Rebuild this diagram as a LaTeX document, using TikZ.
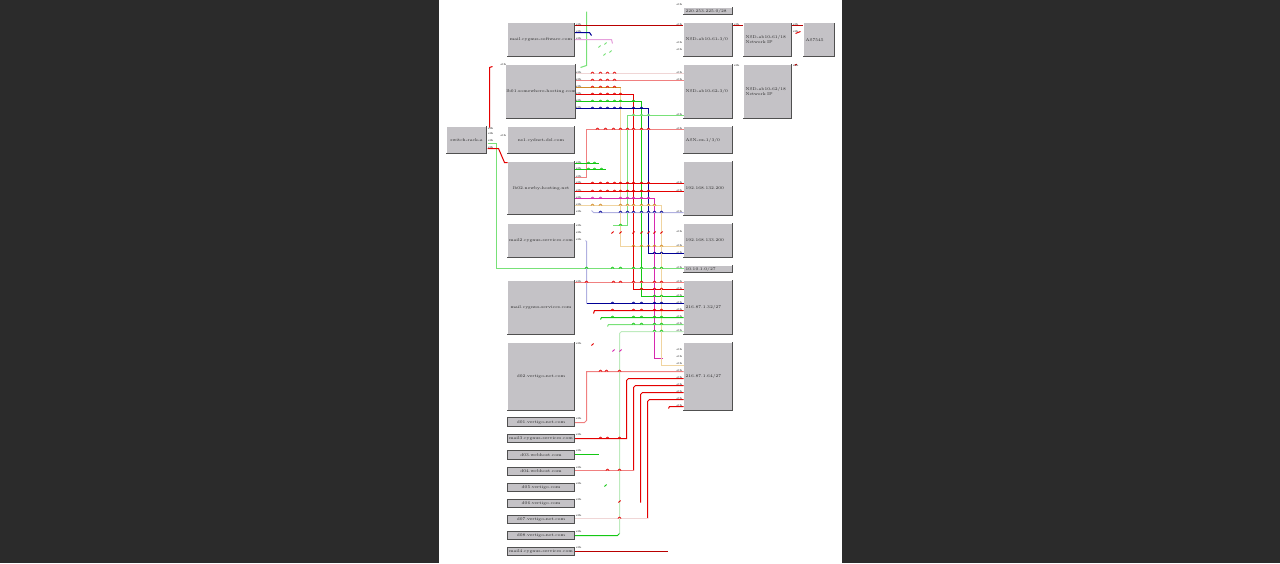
\documentclass[tikz,border=0pt]{standalone}
\definecolor{bgdark}{RGB}{43,43,43}
\definecolor{boxgray}{RGB}{196,194,198}
\definecolor{boxedge}{RGB}{80,80,80}
\definecolor{cdred}{RGB}{185,0,0}
\definecolor{cred}{RGB}{228,0,0}
\definecolor{csal}{RGB}{240,128,128}
\definecolor{cpale}{RGB}{240,214,214}
\definecolor{corange}{RGB}{210,140,40}
\definecolor{cbeige}{RGB}{240,212,160}
\definecolor{cgreen}{RGB}{20,200,20}
\definecolor{clgreen}{RGB}{120,225,120}
\definecolor{cpgreen}{RGB}{190,235,190}
\definecolor{cnavy}{RGB}{0,0,150}
\definecolor{clav}{RGB}{176,176,224}
\definecolor{cmag}{RGB}{215,40,175}
\definecolor{cpink}{RGB}{230,160,220}
\tikzset{
  hbox/.style={fill=boxgray, inner sep=0pt, font=\fontsize{4.1}{4.8}\selectfont, text=black!85, align=center},
  wire/.style={line width=1pt},
  port/.style={font=\fontsize{2.9}{3.2}\selectfont, inner sep=0.2pt, text=black},
  edgeline/.style={draw=boxedge, line width=1pt},
}
\newcommand\hbx[6]{%
  \node[hbox, minimum width=#4pt, minimum height=#5pt] (#1) at (#2,#3) {#6};
  \draw[edgeline] (#1.north east) -- (#1.south east) -- (#1.south west);}
\newcommand\hbxl[7]{%
  \node[hbox, minimum width=#4pt, minimum height=#5pt, text width=#7pt, align=left] (#1) at (#2,#3) {#6};
  \draw[edgeline] (#1.north east) -- (#1.south east) -- (#1.south west);}
\newcommand\hbxs[5]{%
  \node[hbox, minimum width=67pt, minimum height=8.5pt, draw=boxedge, line width=0.6pt] (#1) at (#2,#3) {#5};
  \draw[edgeline] (#1.north east) -- (#1.south east);}
\newcommand\hp[3]{\draw[#3,line width=0.7pt] (#1-1.6,#2) .. controls (#1-1.6,#2-2) and (#1+1.6,#2-2) .. (#1+1.6,#2);}
\newcommand\tk[3]{\draw[#3,line width=0.9pt] (#1-1.2,#2+1) -- (#1+1.2,#2-1);}
\begin{document}
\begin{tikzpicture}[x=1pt,y=-1pt]
\fill[bgdark] (0,0) rectangle (1280,563);
\fill[white] (439,0) rectangle (842,563);
\useasboundingbox (0,0) rectangle (1280,563);
\begin{scope}[shift={(0.5,0.5)}]
% ---------------- wires ----------------
% box 1
\draw[wire,clgreen] (580,67) -- (586,65) -- (586,11);
\draw[wire,cnavy] (574,32) -- (589,32) -- (591,35);
\draw[wire,cpink] (574,39) -- (611,39) -- (612,43);
\foreach \x/\y in {599/46,605/43,610/51,604/54} \tk{\x}{\y}{clgreen};
% box 2
\draw[wire,cpale] (574,73) -- (683,73);
\draw[wire,csal] (574,80) -- (683,80);
\draw[wire,corange] (574,87) -- (620,87);
\draw[wire,cbeige] (620,87) -- (620,246) -- (683,246);
\draw[wire,cred] (574,94) -- (633,94) -- (633,289) -- (683,289);
\draw[wire,cgreen] (574,101) -- (641,101) -- (641,296) -- (683,296);
\draw[wire,cnavy] (574,108) -- (648,108) -- (648,253) -- (683,253);
\draw[wire,clgreen] (683,115) -- (627,115) -- (627,225) -- (612,225);
% switch
\draw[wire,cred] (489,127) -- (489,67) -- (492,66);
\draw[wire,clgreen] (487,143) -- (496,143) -- (496,268) -- (683,268);
\draw[wire,cred] (487,148) -- (498,148) -- (504,162) -- (507,162);
% box 4
\draw[wire,csal] (574,177) -- (586,177) -- (586,129) -- (683,129);
\draw[wire,cgreen] (574,163) -- (598,163);
\draw[wire,cgreen] (574,169) -- (605,169);
\draw[wire,cred] (574,183) -- (683,183);
\draw[wire,cred] (574,191) -- (683,191);
\draw[wire,cmag] (574,198) -- (654,198) -- (654,358) -- (662,358);
\draw[wire,cbeige] (574,205) -- (661,205) -- (661,365) -- (683,365);
\draw[wire,clav] (591,210) -- (593,212) -- (683,212);
% box 5
\draw[wire,clav] (585,240) -- (586,241) -- (586,303);
\draw[wire,cnavy] (586,303) -- (683,303);
\foreach \x in {612,620,633,641,648,654,661} \tk{\x}{232}{cred};
% box 6 / R6
\draw[wire,csal] (574,282) -- (683,282);
\draw[wire,cred] (593,313) -- (594,310) -- (683,310);
\draw[wire,cgreen] (600,319) -- (601,317) -- (683,317);
\draw[wire,clgreen] (607,326) -- (608,324) -- (683,324);
\draw[wire,cpgreen] (683,331) -- (621,331) -- (619,333) -- (619,533);
\draw[wire,cgreen] (619,533) -- (617,535) -- (574,535);
% R7
\draw[wire,csal] (683,371) -- (586,371) -- (586,420) -- (584,422) -- (574,422);
\draw[wire,cred] (683,378) -- (628,378) -- (626,380) -- (626,438) -- (574,438);
\draw[wire,cred] (683,385) -- (635,385) -- (633,387) -- (633,470);
\draw[wire,csal] (633,470) -- (574,470);
\draw[wire,cred] (683,392) -- (642,392) -- (640,394) -- (640,502);
\draw[wire,cred] (683,399) -- (649,399) -- (647,401) -- (647,518);
\draw[wire,cpale] (647,518) -- (574,518);
\draw[wire,cred] (683,406) -- (669,406) -- (668,408);
\tk{592}{344}{cred}; \tk{613}{350}{cmag}; \tk{620}{350}{cmag};
% bottom
\draw[wire,cdred] (574,551) -- (667,551);
\draw[wire,cgreen] (574,454) -- (598,454);
\tk{605}{485}{cgreen}; \tk{619}{501}{cred};

% ---------------- hops ----------------
\foreach \x in {592,600,607,614} {\hp{\x}{73}{cred} \hp{\x}{80}{cred} \hp{\x}{87}{cred}
  \hp{\x}{94}{cred} \hp{\x}{101}{cgreen} \hp{\x}{108}{cnavy}}
\foreach \x in {620} {\hp{\x}{94}{cred}}
\foreach \x in {620,633} {\hp{\x}{101}{cgreen}}
\foreach \x in {620,633,641} {\hp{\x}{108}{cnavy}}
\foreach \x in {633,641,648} {\hp{\x}{115}{clgreen}}
\foreach \x in {597,605,613,620,627,633,641,648} {\hp{\x}{129}{cred}}
\foreach \x in {588,594} {\hp{\x}{163}{cgreen}}
\foreach \x in {588,594,601} {\hp{\x}{169}{cgreen}}
\foreach \x in {592,600,607,614,620,627,633,641,648} {\hp{\x}{183}{cred} \hp{\x}{191}{cred}}
\foreach \x in {592,600,620,627,633,641,648} {\hp{\x}{198}{cmag}}
\foreach \x in {592,600,620,627,633,641,648,654} {\hp{\x}{205}{corange}}
\foreach \x in {600,620,627,633,641,648,654,661} {\hp{\x}{212}{cnavy}}
\foreach \x in {620} {\hp{\x}{225}{cgreen}}
\foreach \x in {633,641,648,654,661} {\hp{\x}{246}{corange}}
\foreach \x in {654,661} {\hp{\x}{253}{cnavy}}
\foreach \x in {586,612,620,633,641,654,661} {\hp{\x}{268}{cgreen}}
\foreach \x in {586,613,620,633,641,654,661} {\hp{\x}{282}{cred}}
\foreach \x in {641,654,661} {\hp{\x}{289}{cred}}
\foreach \x in {654,661} {\hp{\x}{296}{cgreen}}
\foreach \x in {612,633,641,654,661} {\hp{\x}{303}{cnavy}}
\foreach \x in {612,633,641,654,661} {\hp{\x}{310}{cred}}
\foreach \x in {612,633,641,654,661} {\hp{\x}{317}{cgreen}}
\foreach \x in {633,641,654,661} {\hp{\x}{324}{cgreen}}
\foreach \x in {654,661} {\hp{\x}{331}{cgreen}}
\foreach \x in {600,606,619} {\hp{\x}{371}{cred}}
\foreach \x in {600,607,619} {\hp{\x}{438}{cred}}
\foreach \x in {607,619} {\hp{\x}{470}{cred}}
\foreach \x in {619} {\hp{\x}{518}{cred}}

% ---------------- boxes ----------------
\hbx{sw}{466}{139.5}{40}{27}{switch-rack-a}
\hbx{b1}{540.5}{39.3}{67}{33}{mail.cygnus-software.com}
\hbx{b2}{540.5}{91}{67}{54}{lb01.somewhere-hosting.com}
\hbx{b3}{540.5}{139.5}{67}{27}{ns1.cydnet-dsl.com}
\hbx{b4}{540.5}{187.5}{67}{53}{lb02.newby-hosting.net}
\hbx{b5}{540.5}{240}{67}{34}{mail2.cygnus-services.com}
\hbx{b6}{540.5}{307}{67}{54}{mail.cygnus-services.com}
\hbx{b7}{540.5}{376}{67}{68}{d02.vertigo-net.com}
\hbxs{s1}{540.5}{421.5}{}{d01.vertigo-net.com}
\hbxs{s2}{540.5}{438}{}{mail3.cygnus-services.com}
\hbxs{s3}{540.5}{454.5}{}{d03.webhost.com}
\hbxs{s4}{540.5}{471}{}{d04.webhost.com}
\hbxs{s5}{540.5}{487}{}{d05.vertigo.com}
\hbxs{s6}{540.5}{503}{}{d06.vertigo.com}
\hbxs{s7}{540.5}{519}{}{d07.vertigo-net.com}
\hbxs{s8}{540.5}{535}{}{d08.vertigo-net.com}
\hbxs{s9}{540.5}{551}{}{mail4.cygnus-services.com}
\hbxl{r0}{707.5}{10.5}{49}{7}{220.253.225.0/28}{45}
\hbxl{r1}{707.5}{39.3}{49}{33}{NSD-ab10-61-3/0}{45}
\hbxl{r1b}{767}{39.3}{48}{33}{NSD-ab10-61/18\\Network IP}{44}
\hbxl{as}{818.5}{39.3}{31}{33}{AS7545}{27}
\hbxl{r2}{707.5}{91}{49}{54}{NSD-ab10-62-3/0}{45}
\hbxl{r2b}{767}{91}{48}{54}{NSD-ab10-62/18\\Network IP}{44}
\hbxl{r3}{707.5}{139.5}{49}{27}{ASN-ex-1/3/0}{45}
\hbxl{r4}{707.5}{188}{49}{54}{192.168.132.200}{45}
\hbxl{r5}{707.5}{240}{49}{34}{192.168.133.200}{45}
\hbxl{rs}{707.5}{268.5}{49}{7}{10.10.1.0/27}{45}
\hbxl{r6}{707.5}{307}{49}{54}{216.87.1.32/27}{45}
\hbxl{r7}{707.5}{376}{49}{68}{216.87.1.64/27}{45}

% connectors between right boxes
\draw[wire,cdred] (b1.east|-0,25) -- (r1.west|-0,25);
\draw[wire,cdred] (r1.east|-0,25) -- (r1b.west|-0,25);
\draw[wire,cdred] (r1b.east|-0,25) -- (as.west|-0,25);
\draw[wire,cred] (795,33) -- (800,31);
\draw[wire,cred] (r2b.north east) ++(3,1) -- ++(2,-1);

% ---------------- port labels ----------------
\foreach \y in {25,32,39,80,87,94,101,108,73,163,169,177,183,191,198,205,212,226,233,240,282,344,419,435,451,468,484,500,516,532,548}
  \node[port, anchor=south west] at (575,\y) {eth};
\foreach \y in {5,25,43,50,73,80,115,129,183,191,212,232,246,253,268,282,289,296,303,310,317,324,331,350,357,364,371,378,385,392,399,406}
  \node[port, anchor=south east] at (682,\y) {eth};
\foreach \y in {129,134,141,148}
  \node[port, anchor=south west] at (487,\y) {eth};
\node[port, anchor=south east] at (506,136) {eth};
\node[port, anchor=south west] at (733,25) {eth};
\node[port, anchor=south west] at (792,25) {eth};
\node[port, anchor=south west] at (792,32) {eth};
\node[port, anchor=south west] at (733,66) {eth};
\node[port, anchor=south west] at (792,66) {eth};
\node[port, anchor=south east] at (506,65) {eth};
\end{scope}
\end{tikzpicture}
\end{document}
